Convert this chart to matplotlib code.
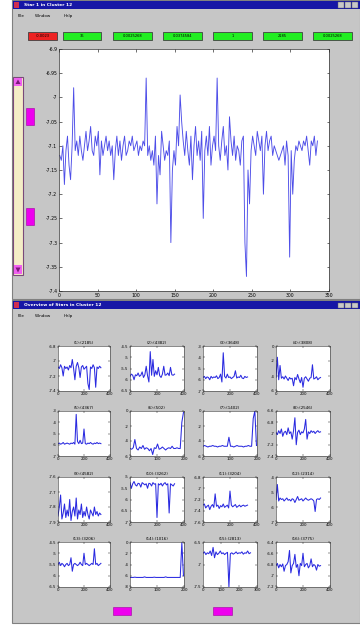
import numpy as np
import matplotlib
matplotlib.use("Agg")
import matplotlib.pyplot as plt
from matplotlib.patches import Rectangle, Polygon

# ---------------- data ----------------
main_step = 2
main_values = [
    -7.12, -7.13, -7.10, -7.18, -7.11, -7.08, -7.14, -7.17, -7.10, -6.98,
    -7.11, -7.09, -7.12, -7.08, -7.11, -7.13, -7.10, -7.07, -7.11, -7.09,
    -7.06, -7.11, -7.12, -7.08, -7.10, -7.07, -7.16, -7.09, -7.12, -7.10,
    -7.08, -7.11, -7.09, -7.12, -7.10, -7.17, -7.11, -7.08, -7.12, -7.09,
    -7.13, -7.10, -7.08, -7.12, -7.11, -7.09, -7.10, -7.08, -7.11, -7.10,
    -7.09, -7.12, -7.10, -7.11, -7.09, -7.10, -6.96, -7.12, -7.10, -7.13,
    -7.11, -7.14, -7.08, -7.22, -7.12, -7.16, -7.07, -7.10, -7.13, -7.11,
    -7.12, -7.09, -7.30, -7.15, -7.11, -7.14, -7.06, -7.10, -6.995, -7.05,
    -7.09, -7.12, -7.07, -7.11, -7.14, -7.08, -7.17, -7.10, -7.06, -7.12,
    -7.09, -7.13, -7.07, -7.25, -7.11, -7.08, -7.12, -7.06, -7.14, -7.10,
    -7.08, -7.11, -6.96, -7.10, -7.13, -7.09, -7.06, -7.12, -7.10, -7.15,
    -7.04, -7.09, -7.12, -7.08, -7.13, -7.10, -7.11, -7.14, -7.09, -7.08,
    -7.30, -7.37, -7.15, -7.22, -7.11, -7.08, -7.10, -7.12, -7.07, -7.09,
    -7.11, -7.08, -7.20, -7.10, -7.07, -7.11, -7.09, -7.08, -7.12, -7.10,
    -7.11, -7.12, -7.13, -7.12, -7.11, -7.10, -7.14, -7.09, -7.12, -7.33,
    -7.11, -7.20, -7.13, -7.10, -7.11, -7.09, -7.10, -7.11, -7.09, -7.10,
    -7.08, -7.11, -7.14, -7.09, -7.10, -7.08, -7.12, -7.09,
]
main_yticks = [-6.9, -6.95, -7, -7.05, -7.1, -7.15, -7.2, -7.25, -7.3, -7.35, -7.4]
main_xticks = [0, 50, 100, 150, 200, 250, 300, 350]

button_labels = ["-0.0023", "36", "0.0025268", "0.0374584", "1", "2185", "0.0025268"]

titles = ["(1):(2185)", "(2):(4382)", "(3):(3648)", "(4):(3808)",
          "(5):(4367)", "(6):(502)", "(7):(1402)", "(8):(2546)",
          "(9):(4582)", "(10):(3262)", "(11):(3204)", "(12):(2314)",
          "(13):(3206)", "(14):(1016)", "(15):(2813)", "(16):(3775)"]

s1 = [-7.08,-7.10,-7.05,-7.09,-7.20,-7.07,-7.10,-7.08,-7.12,-7.06,-7.09,-6.98,-7.10,-7.25,-7.07,-7.02,-7.09,-7.22,-7.08,-7.06,-7.11,-7.09,-7.07,-7.30,-7.38,-7.08,-7.10,-7.05,-7.09,-7.35,-7.08,-7.10,-7.07,-7.09]
s2 = [-5.85,-5.75,-5.80,-6.0,-5.78,-5.82,-5.70,-5.85,-5.80,-5.65,-5.90,-5.78,-5.40,-5.82,-6.10,-4.75,-5.80,-5.10,-5.85,-5.60,-5.78,-5.45,-5.82,-5.90,-5.75,-5.40,-5.80,-5.78,-5.70,-5.82,-5.45,-5.78,-5.80,-5.75]
s3 = [-5.8,-5.7,-5.9,-5.75,-5.8,-6.0,-5.7,-5.85,-5.75,-5.8,-5.65,-5.9,-5.8,-5.5,-6.2,-3.6,-5.7,-5.85,-5.5,-5.8,-5.75,-5.9,-5.8,-5.7,-5.2,-5.85,-5.75,-5.8,-5.6,-5.85,-5.9,-5.7,-5.8,-5.75]
s4 = [-4.2,-1.5,-4.5,-2.6,-4.3,-4.1,-4.4,-4.0,-4.3,-4.6,-4.2,-4.4,-4.3,-5.3,-4.2,-4.5,-3.8,-4.4,-4.9,-4.2,-5.5,-4.3,-4.1,-4.4,-4.7,-4.3,-4.2,-2.5,-4.4,-4.3,-4.1,-4.5,-4.3,-4.2]
s5 = [-5.9,-5.85,-5.95,-5.9,-5.8,-5.95,-5.9,-5.85,-5.9,-5.95,-5.85,-5.9,-5.8,-5.95,-3.3,-5.7,-5.9,-5.6,-5.9,-5.85,-4.6,-5.9,-5.95,-5.85,-5.9,-5.8,-5.9,-5.95,-5.85,-5.9,-5.8,-5.9,-5.85,-5.9]
s6 = [-5.0,-5.1,-4.9,-3.8,-5.0,-5.2,-4.8,-5.0,-4.6,-5.1,-4.9,-5.0,-5.3,-5.0,-5.8,-4.9,-5.0,-4.4,-5.1,-5.0,-4.8,-5.0,-5.2,-5.0,-4.9,-5.0,-4.7,-5.0,-5.0,-4.9,-5.0,-5.0,-1.5,-0.2]
s7 = [-4.7,-4.6,-4.7,-4.8,-4.7,-4.7,-4.6,-4.7,-4.7,-4.8,-4.7,-4.7,-4.6,-4.7,-4.7,-4.7,-3.5,-4.7,-4.7,-4.8,-4.7,-4.6,-4.7,-4.7,-4.7,-4.8,-4.7,-4.7,-4.6,-4.7,-4.7,-1.0,0.0,-4.6]
s8 = [-6.98,-7.02,-6.95,-7.0,-6.92,-7.05,-6.98,-6.96,-7.02,-6.9,-7.0,-6.97,-7.1,-6.95,-6.72,-7.2,-6.98,-6.94,-7.02,-6.97,-6.99,-6.92,-6.75,-7.1,-6.97,-7.0,-6.95,-6.98,-6.96,-7.0,-6.97,-6.95,-6.98,-6.97]
s9 = [-7.86,-7.80,-7.72,-7.88,-7.84,-7.78,-7.87,-7.82,-7.86,-7.75,-7.89,-7.83,-7.80,-7.86,-7.74,-7.88,-7.82,-7.85,-7.78,-7.87,-7.83,-7.86,-7.80,-7.85,-7.88,-7.82,-7.84,-7.86,-7.80,-7.85,-7.83,-7.86,-7.84,-7.85]
s10 = [-5.25,-5.5,-5.3,-5.2,-5.35,-5.4,-5.28,-5.3,-5.45,-5.25,-5.3,-5.35,-5.3,-5.5,-5.28,-5.3,-5.4,-5.25,-5.32,-5.3,-6.8,-5.3,-5.35,-5.28,-5.4,-5.3,-5.25,-5.35,-5.3,-6.6,-5.3,-5.35,-5.4,-5.3]
s11 = [-7.30,-7.28,-7.35,-7.32,-7.30,-7.38,-7.32,-7.29,-7.34,-7.10,-7.32,-7.30,-7.36,-7.31,-7.33,-7.28,-7.34,-7.32,-7.30,-7.35,-7.05,-7.30,-7.33,-7.31,-7.29,-7.34,-7.32,-7.30,-7.33,-7.31,-7.30,-7.32,-7.31,-7.30]
s12 = [-5.5,-4.5,-5.6,-5.4,-5.5,-5.45,-5.6,-5.5,-5.4,-5.55,-5.5,-5.6,-5.45,-5.5,-5.7,-5.5,-5.3,-5.55,-5.5,-5.45,-5.6,-5.5,-5.4,-5.5,-5.55,-5.5,-5.45,-5.5,-5.6,-6.3,-5.5,-5.45,-5.5,-5.4]
s13 = [-5.5,-5.4,-5.55,-5.45,-5.5,-5.6,-5.5,-5.45,-5.55,-5.5,-5.2,-5.8,-5.5,-5.45,-5.5,-5.55,-5.5,-5.4,-5.5,-5.55,-5.0,-5.5,-5.45,-5.5,-5.55,-5.5,-5.45,-5.5,-4.8,-5.5,-5.45,-5.55,-5.5,-5.45]
s14 = [-6.3,-6.3,-6.3,-6.25,-6.3,-6.3,-6.3,-6.3,-6.3,-6.2,-6.3,-6.3,-6.3,-6.3,-6.3,-6.25,-6.3,-6.3,-6.3,-6.3,-6.3,-6.3,-6.2,-6.3,-6.3,-6.3,-6.3,-6.3,-6.3,-6.3,-6.3,-6.3,-0.1,-6.0]
s15 = [-6.75,-6.72,-6.78,-6.74,-6.76,-6.70,-6.80,-6.62,-6.85,-6.72,-6.78,-6.75,-6.70,-6.76,-6.74,-6.78,-6.75,-6.73,-7.50,-6.76,-6.74,-6.77,-6.75,-6.72,-6.76,-6.74,-6.75,-6.72,-6.77,-6.74,-6.75,-6.70,-6.76,-6.74]
s16 = [-6.82,-6.78,-6.86,-6.80,-6.84,-6.79,-6.92,-6.82,-6.80,-6.75,-6.55,-6.95,-6.82,-6.78,-6.62,-6.85,-6.80,-7.0,-6.78,-6.82,-6.60,-6.84,-6.80,-6.78,-6.86,-6.82,-6.70,-6.84,-6.80,-6.82,-6.90,-6.80,-6.83,-6.82]
small_series = [s1, s2, s3, s4, s5, s6, s7, s8, s9, s10, s11, s12, s13, s14, s15, s16]
small_steps = [10, 10, 10, 10, 10, 6, 6, 10, 10, 10, 10, 10, 10, 6, 8, 10]
small_ylims = [(-7.4, -6.8), (-6.5, -4.5), (-7, -3), (-6, 0),
               (-7, -3), (-6, 0), (-6, 0), (-7.4, -6.6),
               (-7.9, -7.6), (-7, -5), (-7.6, -6.8), (-7, -4),
               (-6.5, -4.5), (-8, 0), (-7.5, -6.5), (-7.2, -6.4)]
small_yticks = [[-7.4, -7.2, -7, -6.8], [-6.5, -6, -5.5, -5, -4.5], [-7, -6, -5, -4, -3], [-6, -4, -2, 0],
                [-7, -6, -5, -4, -3], [-6, -4, -2, 0], [-6, -4, -2, 0], [-7.4, -7.2, -7, -6.8, -6.6],
                [-7.9, -7.8, -7.7, -7.6], [-7, -6.5, -6, -5.5, -5], [-7.6, -7.4, -7.2, -7, -6.8], [-7, -6, -5, -4],
                [-6.5, -6, -5.5, -5, -4.5], [-8, -6, -4, -2, 0], [-7.5, -7, -6.5], [-7.2, -7, -6.8, -6.6, -6.4]]
small_xmax = [400, 400, 400, 400, 400, 200, 200, 400, 400, 400, 400, 400, 400, 200, 300, 400]
small_xticks = [[0, 200, 400]] * 5 + [[0, 100, 200]] * 2 + [[0, 200, 400]] * 6 + [[0, 100, 200], [0, 100, 200, 300], [0, 200, 400]]

# ---------------- figure ----------------
W, H = 360, 625
fig = plt.figure(figsize=(3.6, 6.25), dpi=100)
fig.patch.set_facecolor("white")
GRAY = "#c6c6c6"
BLUE_BAR = "#1616a6"
LINE = "#3a3ae6"


def rect(x0, y0, x1, y1, fc, ec="none", lw=0.5, z=0):
    r = Rectangle((x0 / W, 1 - y1 / H), (x1 - x0) / W, (y1 - y0) / H,
                  transform=fig.transFigure, facecolor=fc, edgecolor=ec,
                  linewidth=lw, zorder=z)
    fig.add_artist(r)
    return r


def text(x, y, s, size=3, color="black", ha="left", va="center", weight="normal"):
    fig.text(x / W, 1 - y / H, s, fontsize=size, color=color, ha=ha, va=va,
             weight=weight, zorder=5)


def axes_px(x0, y0, x1, y1):
    return fig.add_axes([x0 / W, 1 - y1 / H, (x1 - x0) / W, (y1 - y0) / H])


def window(y0, y1, title):
    rect(12, y0, 360, y1, GRAY, ec="#808080", lw=0.8)
    rect(13, y0 + 1, 360, y0 + 9, BLUE_BAR, z=1)
    rect(14, y0 + 2, 19, y0 + 8, "#d03050", z=2)
    text(24, y0 + 5, title, size=3.2, color="white", weight="bold")
    for bx in (338, 345, 352):
        rect(bx, y0 + 2.5, bx + 6, y0 + 7.5, "#c8c8c8", ec="#606060", lw=0.3, z=2)
    text(18, y0 + 16, "File", size=3)
    text(35, y0 + 16, "Window", size=3)
    text(64, y0 + 16, "Help", size=3)


# window 1
window(0, 299, "Star 1 in Cluster 12")
bx_list = [(28, 57), (63, 101), (113, 152), (163, 202), (213, 252), (263, 302), (313, 352)]
for i, (a, b) in enumerate(bx_list):
    fc = "#ee2222" if i == 0 else "#22ee22"
    rect(a, 32, b, 40, fc, ec="#404040", lw=0.6, z=2)
    text((a + b) / 2, 36, button_labels[i], size=2.6, ha="center")

# slider
rect(13, 77, 23, 275, "#f4edc6", ec="#7a4a7a", lw=0.8, z=2)
rect(14, 78, 22, 86, "#f060f0", z=3)
rect(14, 265, 22, 274, "#f060f0", z=3)
fig.add_artist(Polygon([(18 / W, 1 - 79.5 / H), (15.5 / W, 1 - 84 / H), (20.5 / W, 1 - 84 / H)],
                       closed=True, transform=fig.transFigure, fc="#7a1a7a", ec="none", zorder=4))
fig.add_artist(Polygon([(18 / W, 1 - 272.5 / H), (15.5 / W, 1 - 267.5 / H), (20.5 / W, 1 - 267.5 / H)],
                       closed=True, transform=fig.transFigure, fc="#7a1a7a", ec="none", zorder=4))
rect(26, 108, 34, 125, "#ee00ee", ec="#a000a0", lw=0.4, z=2)
rect(26, 208, 34, 225, "#ee00ee", ec="#a000a0", lw=0.4, z=2)

# main axes
ax = axes_px(59, 49, 329, 291)
xm = np.arange(1, 1 + main_step * len(main_values), main_step)
ax.plot(xm, main_values, color=LINE, lw=0.65, alpha=0.9)
ax.set_xlim(0, 350)
ax.set_ylim(-7.4, -6.9)
ax.set_xticks(main_xticks)
ax.set_yticks(main_yticks)
ax.set_yticklabels([f"{v:g}" for v in main_yticks])
ax.tick_params(direction="in", length=1.8, width=0.4, labelsize=3.3, pad=1.2,
               top=True, right=True)
for sp in ax.spines.values():
    sp.set_linewidth(0.5)
    sp.set_color("#303030")

# window 2
window(300, 623, "Overview of Stars in Cluster 12")
cols = [(58, 110), (130, 184), (203, 257), (276, 330)]
rows = [(346, 391), (411, 456), (477, 522), (542, 587)]
for k in range(16):
    r, c = divmod(k, 4)
    x0, x1 = cols[c]
    y0, y1 = rows[r]
    a = axes_px(x0, y0, x1, y1)
    vals = small_series[k]
    xs = np.arange(len(vals)) * small_steps[k]
    a.plot(xs, vals, color="#2a2ae0", lw=0.75)
    a.set_xlim(0, small_xmax[k])
    a.set_ylim(*small_ylims[k])
    a.set_xticks(small_xticks[k])
    a.set_yticks(small_yticks[k])
    a.set_yticklabels([f"{v:g}" for v in small_yticks[k]])
    a.tick_params(direction="in", length=1.2, width=0.3, labelsize=2.8, pad=1,
                  top=True, right=True)
    for sp in a.spines.values():
        sp.set_linewidth(0.4)
        sp.set_color("#303030")
    a.set_title(titles[k], fontsize=2.9, pad=1.2)

rect(113, 607, 131, 615, "#ee00ee", ec="#a000a0", lw=0.4, z=2)
rect(213, 607, 232, 615, "#ee00ee", ec="#a000a0", lw=0.4, z=2)

fig.savefig("out.png", dpi=100)
